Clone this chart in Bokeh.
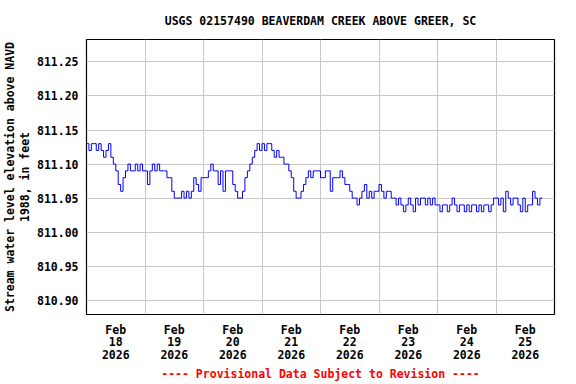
import pandas as pd
from bokeh.plotting import figure
from bokeh.models import (FixedTicker, DatetimeTickFormatter, PrintfTickFormatter,
                          Range1d, ColumnDataSource)
from bokeh.embed import file_html
from bokeh.resources import INLINE

# ---------------- data ----------------
chart_title = "USGS 02157490 BEAVERDAM CREEK ABOVE GREER, SC"
y_label = "Stream water level elevation above NAVD\n1988, in feet"
footer = "---- Provisional Data Subject to Revision ----"

series_start = "2026-02-18 00:00"          # hourly readings from here
x_start = "2026-02-18 00:00"
x_end = "2026-02-26 00:00"
day_ticks = ["2026-02-18", "2026-02-19", "2026-02-20", "2026-02-21",
             "2026-02-22", "2026-02-23", "2026-02-24", "2026-02-25"]
y_ticks = [810.90, 810.95, 811.00, 811.05, 811.10, 811.15, 811.20, 811.25]
y_min, y_max = 810.879, 811.283

level_ft = [
    # Feb 18
    811.13, 811.12, 811.13, 811.13, 811.12, 811.13, 811.12, 811.11, 811.12, 811.13, 811.11, 811.10,
    811.09, 811.07, 811.06, 811.08, 811.09, 811.10, 811.09, 811.09, 811.10, 811.09, 811.10, 811.09,
    # Feb 19
    811.09, 811.07, 811.09, 811.10, 811.09, 811.10, 811.09, 811.09, 811.09, 811.08, 811.08, 811.06,
    811.05, 811.05, 811.05, 811.06, 811.05, 811.06, 811.05, 811.06, 811.08, 811.07, 811.06, 811.08,
    # Feb 20
    811.08, 811.08, 811.09, 811.10, 811.09, 811.09, 811.07, 811.09, 811.06, 811.09, 811.09, 811.09,
    811.07, 811.06, 811.05, 811.05, 811.06, 811.08, 811.09, 811.10, 811.11, 811.12, 811.13, 811.12,
    # Feb 21
    811.13, 811.12, 811.13, 811.13, 811.12, 811.11, 811.12, 811.11, 811.11, 811.10, 811.10, 811.09,
    811.08, 811.06, 811.05, 811.05, 811.06, 811.07, 811.08, 811.09, 811.08, 811.09, 811.09, 811.09,
    # Feb 22
    811.08, 811.08, 811.09, 811.09, 811.06, 811.08, 811.08, 811.08, 811.09, 811.08, 811.07, 811.07,
    811.06, 811.05, 811.05, 811.04, 811.05, 811.06, 811.07, 811.05, 811.06, 811.05, 811.06, 811.06,
    # Feb 23
    811.07, 811.06, 811.05, 811.06, 811.06, 811.05, 811.05, 811.04, 811.05, 811.04, 811.03, 811.04,
    811.05, 811.04, 811.03, 811.05, 811.04, 811.05, 811.05, 811.04, 811.05, 811.04, 811.05, 811.04,
    # Feb 24
    811.04, 811.03, 811.04, 811.04, 811.03, 811.04, 811.05, 811.04, 811.03, 811.04, 811.04, 811.03,
    811.04, 811.03, 811.04, 811.04, 811.03, 811.04, 811.03, 811.04, 811.04, 811.03, 811.04, 811.05,
    # Feb 25
    811.05, 811.04, 811.05, 811.03, 811.06, 811.05, 811.04, 811.05, 811.05, 811.04, 811.03, 811.05,
    811.03, 811.04, 811.04, 811.06, 811.05, 811.04, 811.05, 811.05,
]

# ---------------- build ----------------
times = pd.date_range(series_start, periods=len(level_ft), freq="h")
src = ColumnDataSource(dict(t=times, v=level_ft))

FONT = "DejaVu Sans Mono"
FS = "11.5px"

p = figure(frame_width=468, frame_height=275, x_axis_type="datetime",
           output_backend="svg", toolbar_location=None,
           x_range=Range1d(pd.Timestamp(x_start), pd.Timestamp(x_end)),
           y_range=Range1d(y_min, y_max),
           min_border_left=79, min_border_right=12,
           min_border_top=32, min_border_bottom=56)

p.title.text = chart_title
p.title.align = "center"
p.title.text_font = FONT
p.title.text_font_size = FS
p.title.text_font_style = "bold"
p.title.text_color = "black"
p.title.standoff = 23

p.background_fill_color = "white"
p.border_fill_color = "white"
p.outline_line_color = "black"
p.outline_line_width = 1.2
p.outline_line_alpha = 1

midnights = [pd.Timestamp(d).value / 1e6 for d in day_ticks] + [pd.Timestamp(x_end).value / 1e6]
noons = [(pd.Timestamp(d) + pd.Timedelta(hours=12)).value / 1e6 for d in day_ticks]

p.xgrid.ticker = FixedTicker(ticks=midnights)
p.ygrid.ticker = FixedTicker(ticks=y_ticks)
for g in (p.xgrid, p.ygrid):
    g.grid_line_color = "#c8c8c8"
    g.grid_line_width = 1

fmt = "%b\n%d\n%Y"
xa = p.xaxis[0]
xa.ticker = FixedTicker(ticks=noons)
xa.formatter = DatetimeTickFormatter(microseconds=fmt, milliseconds=fmt, seconds=fmt,
                                     minsec=fmt, minutes=fmt, hourmin=fmt, hours=fmt,
                                     days=fmt, months=fmt, years=fmt)
xa.axis_label = footer
xa.axis_label_text_color = "#ff0000"
xa.axis_label_standoff = 2

ya = p.yaxis[0]
ya.ticker = FixedTicker(ticks=y_ticks)
ya.formatter = PrintfTickFormatter(format="%.2f")
ya.axis_label = y_label
ya.axis_label_standoff = 2
ya.axis_label_text_line_height = 1.05

for ax in (xa, ya):
    ax.axis_line_color = None
    ax.major_tick_in = 0
    ax.major_tick_out = 0
    ax.minor_tick_in = 0
    ax.minor_tick_out = 0
    ax.major_label_text_font = FONT
    ax.major_label_text_font_size = FS
    ax.major_label_text_font_style = "bold"
    ax.major_label_text_color = "black"
    ax.axis_label_text_font = FONT
    ax.axis_label_text_font_size = FS
    ax.axis_label_text_font_style = "bold"
xa.major_label_standoff = 8
xa.major_label_text_line_height = 0.9
ya.major_label_standoff = 8
ya.axis_label_text_color = "black"

p.step("t", "v", source=src, mode="after", line_color="#0000ff", line_width=1)

open("out.html", "w").write(file_html(p, INLINE))
